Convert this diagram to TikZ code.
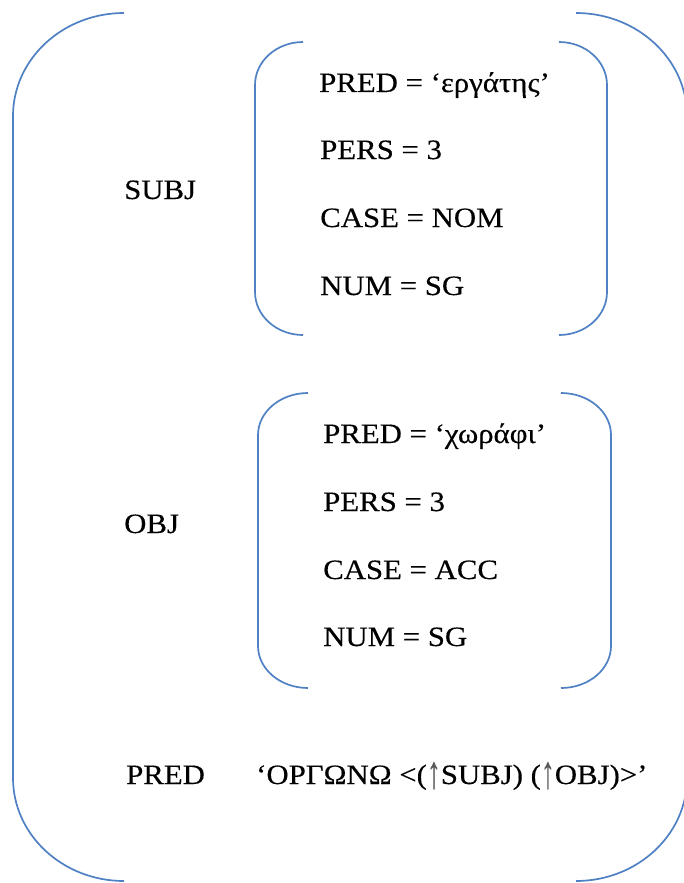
\documentclass[tikz,border=0pt]{standalone}
\usepackage{fontspec}
\setmainfont{Liberation Serif}[FakeStretch=1.1,FakeBold=0.3]
\definecolor{brblue}{RGB}{79,129,196}
\tikzset{
  brline/.style={draw=brblue, line width=1.7pt},
  lbl/.style={anchor=base west, inner sep=0pt, font=\fontsize{28}{33}\selectfont}
}
% tall thin up arrow used in the PRED value
\newcommand\uparr{\raisebox{-0.14em}{\textcolor{black!65}{\scalebox{0.9}[1.65]{↑}}}}
% left bracket: x, top y, bottom y, x radius, y radius
\newcommand\leftbr[5]{%
  \draw[brline] ({#1+#4},#2) .. controls ({#1+0.448*#4},#2) and (#1,{#2+0.448*#5}) .. (#1,{#2+#5})
    -- (#1,{#3-#5}) .. controls (#1,{#3-0.448*#5}) and ({#1+0.448*#4},#3) .. ({#1+#4},#3);}
% right bracket: x, top y, bottom y, x radius, y radius
\newcommand\rightbr[5]{%
  \draw[brline] ({#1-#4},#2) .. controls ({#1-0.448*#4},#2) and (#1,{#2+0.448*#5}) .. (#1,{#2+#5})
    -- (#1,{#3-#5}) .. controls (#1,{#3-0.448*#5}) and ({#1-0.448*#4},#3) .. ({#1-#4},#3);}
\begin{document}
\begin{tikzpicture}[x=1pt,y=-1pt]
\useasboundingbox (0,0) rectangle (684,883);
\clip (0,0) rectangle (684,883);
\fill[white] (0,0) rectangle (684,883);

% outer f-structure brackets
\leftbr{13}{13}{881}{111}{103}
\rightbr{687}{13}{881}{111}{103}

% SUBJ brackets
\leftbr{255}{42}{335}{48}{43}
\rightbr{607}{42}{335}{48}{43}

% OBJ brackets
\leftbr{258}{393}{688}{50}{42}
\rightbr{611}{393}{688}{50}{42}

% attribute names
\node[lbl] (subj) at (124,199) {SUBJ};
\node[lbl] (obj) at (124,533) {OBJ};
\node[lbl] (pred) at (126,784) {PRED};

% SUBJ values
\node[lbl] (s1) at (319,92) {PRED = ‘εργάτης’};
\node[lbl] (s2) at (320,159) {PERS = 3};
\node[lbl] (s3) at (320,227) {CASE = NOM};
\node[lbl] (s4) at (320,295) {NUM = SG};

% OBJ values
\node[lbl] (o1) at (323,443) {PRED = ‘χωράφι’};
\node[lbl] (o2) at (323,511) {PERS = 3};
\node[lbl] (o3) at (323,579) {CASE = ACC};
\node[lbl] (o4) at (323,646) {NUM = SG};

% PRED value
\node[lbl] (pv) at (256,784) {‘ΟΡΓΩΝΩ <(\uparr SUBJ) (\uparr OBJ)>’};
\end{tikzpicture}
\end{document}
